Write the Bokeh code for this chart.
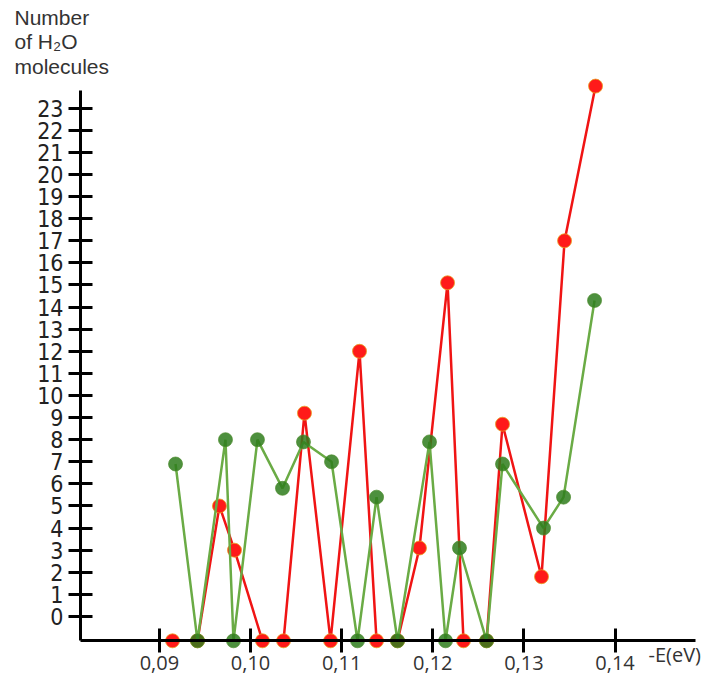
from bokeh.plotting import figure
from bokeh.models import Range1d, FixedTicker, CustomJSTickFormatter, Label
from bokeh.embed import file_html
from bokeh.resources import INLINE

# Data (energy -E in eV, number of H2O molecules)
red_x = [0.09144, 0.09418, 0.09659, 0.09824, 0.10131, 0.10362, 0.10592, 0.10878, 0.11196, 0.11383,
         0.11613, 0.11854, 0.12162, 0.12337, 0.12590, 0.12765, 0.13193, 0.13446, 0.13786]
red_y = [-1.1, -1.1, 5.0, 3.0, -1.1, -1.1, 9.2, -1.1, 12.0, -1.1,
         -1.1, 3.1, 15.1, -1.1, -1.1, 8.7, 1.8, 17.0, 24.0]

green_x = [0.09177, 0.09418, 0.09725, 0.09813, 0.10076, 0.10351, 0.10581, 0.10889, 0.11174, 0.11383,
           0.11613, 0.11964, 0.12140, 0.12293, 0.12590, 0.12765, 0.13215, 0.13435, 0.13775]
green_y = [6.9, -1.1, 8.0, -1.1, 8.0, 5.8, 7.9, 7.0, -1.1, 5.4,
           -1.1, 7.9, -1.1, 3.1, -1.1, 6.9, 4.0, 5.4, 14.3]

x_ticks = [0.09, 0.10, 0.11, 0.12, 0.13, 0.14]
y_ticks = list(range(0, 24))
y_title = ["Number", "of H\u2082O", "molecules"]
x_title = "-E(eV)"

# axis extents / origin
x_axis_start, x_axis_end = 0.081342, 0.148829
y_axis_start, y_axis_end = -1.1, 23.8

p = figure(width=714, height=683, output_backend="svg", toolbar_location=None,
           x_range=Range1d(0.072563, 0.150913), y_range=Range1d(-3.032, 27.873),
           min_border=0, min_border_left=0, min_border_right=0, min_border_top=0, min_border_bottom=0)
p.outline_line_color = None
p.xgrid.visible = False
p.ygrid.visible = False
p.background_fill_color = "white"
p.border_fill_color = "white"

for ax in (p.xaxis[0], p.yaxis[0]):
    ax.axis_line_width = 3
    ax.axis_line_color = "black"
    ax.major_tick_line_width = 3
    ax.major_tick_line_color = "black"
    ax.major_tick_in = 12
    ax.major_tick_out = 12
    ax.minor_tick_line_color = None

p.xaxis.fixed_location = y_axis_start
p.xaxis.bounds = (x_axis_start, x_axis_end)
p.xaxis.ticker = FixedTicker(ticks=x_ticks)
p.xaxis.formatter = CustomJSTickFormatter(code="return tick.toFixed(2).replace('.', ',');")
p.xaxis.major_label_text_font = "Open Sans"
p.xaxis.major_label_text_font_size = "20px"
p.xaxis.major_label_text_color = "#333333"
p.xaxis.major_label_standoff = 3

p.yaxis.fixed_location = x_axis_start
p.yaxis.bounds = (y_axis_start, y_axis_end)
p.yaxis.ticker = FixedTicker(ticks=y_ticks)
p.yaxis.major_label_text_font = "DejaVu Sans Condensed"
p.yaxis.major_label_text_font_size = "23px"
p.yaxis.major_label_text_color = "#222222"
p.yaxis.major_label_standoff = 5

# series
p.line(red_x, red_y, line_color="#f01414", line_width=2.5)
p.scatter(red_x, red_y, size=14, fill_color="#ff1a1a", line_color="#e8a020", line_width=0.8)
p.line(green_x, green_y, line_color="#6aab45", line_width=2.5)
p.scatter(green_x, green_y, size=14, fill_color="#2e7d1c", line_color="#4a8a2a", line_width=0.8,
          fill_alpha=0.85, line_alpha=0.85)

# titles
for t, yy in zip(y_title, [27.104, 26.018, 24.887]):
    p.add_layout(Label(x=0.07410, y=yy, text=t, text_font="Liberation Sans", text_font_size="21px",
                       text_color="#333333", text_baseline="alphabetic", text_align="left"))
p.add_layout(Label(x=0.14367, y=-1.719, text=x_title, text_font="Open Sans", text_font_size="20px",
                   text_color="#333333", text_baseline="alphabetic", text_align="left"))

open("out.html", "w").write(file_html(p, INLINE))
